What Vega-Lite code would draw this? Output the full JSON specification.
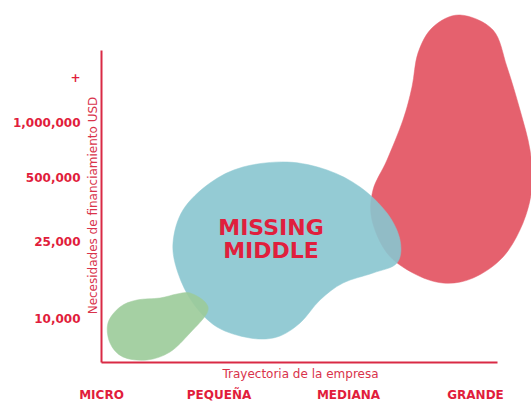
{
  "$schema": "https://vega.github.io/schema/vega-lite/v6.json",
  "width": 396,
  "height": 312,
  "autosize": {"type": "none"},
  "padding": {"left": 101, "top": 50, "right": 34, "bottom": 39},
  "background": "white",
  "config": {"view": {"stroke": null}},
  "encoding": {
    "x": {
      "field": "x", "type": "quantitative",
      "scale": {"domain": [0, 396], "nice": false, "zero": false},
      "axis": {
        "values": [0, 117.5, 247, 374],
        "labelExpr": "datum.value < 50 ? 'MICRO' : datum.value < 180 ? 'PEQUEÑA' : datum.value < 300 ? 'MEDIANA' : 'GRANDE'",
        "grid": false, "ticks": false, "tickSize": 0,
        "domainColor": "#d92a45", "domainWidth": 2,
        "labelPadding": 27, "labelBaseline": "top", "labelAlign": "center",
        "labelFont": "DejaVu Sans", "labelFontWeight": "bold", "labelFontSize": 12,
        "labelColor": "#e11d3c", "labelOverlap": false, "labelFlush": false, "labelBound": false,
        "title": "Trayectoria de la empresa",
        "titleFont": "DejaVu Sans", "titleFontWeight": "normal", "titleFontSize": 12,
        "titleColor": "#d9334b", "titleX": 199, "titleY": 11, "titleBaseline": "middle", "titleAlign": "center"
      }
    },
    "y": {
      "field": "y", "type": "quantitative",
      "scale": {"domain": [0, 312], "nice": false, "zero": false},
      "axis": {
        "values": [44, 121, 185, 240, 285],
        "labelExpr": "datum.value < 80 ? '10,000' : datum.value < 150 ? '25,000' : datum.value < 210 ? '500,000' : datum.value < 260 ? '1,000,000' : '+'",
        "grid": false, "ticks": false, "tickSize": 0,
        "domainColor": "#d92a45", "domainWidth": 2,
        "labelPadding": 21, "labelAlign": "right", "labelBaseline": "middle",
        "labelFont": "DejaVu Sans", "labelFontWeight": "bold", "labelFontSize": 12,
        "labelColor": "#e11d3c", "labelOverlap": false, "labelFlush": false, "labelBound": false,
        "title": "Necesidades de financiamiento USD",
        "titleFont": "DejaVu Sans", "titleFontWeight": "normal", "titleFontSize": 12,
        "titleColor": "#d9334b", "titleAngle": -90, "titleX": -9, "titleY": 155,
        "titleBaseline": "middle", "titleAlign": "center"
      }
    }
  },
  "layer": [
    {
      "data": {"values": [
        {"i": 0, "x": 359, "y": 347}, {"i": 1, "x": 392, "y": 332}, {"i": 2, "x": 406, "y": 295},
        {"i": 3, "x": 419, "y": 252}, {"i": 4, "x": 429, "y": 212}, {"i": 5, "x": 431, "y": 175},
        {"i": 6, "x": 422, "y": 139}, {"i": 7, "x": 402, "y": 105}, {"i": 8, "x": 372, "y": 84},
        {"i": 9, "x": 342, "y": 79}, {"i": 10, "x": 312, "y": 89}, {"i": 11, "x": 286, "y": 109},
        {"i": 12, "x": 271, "y": 142}, {"i": 13, "x": 272, "y": 172}, {"i": 14, "x": 286, "y": 202},
        {"i": 15, "x": 302, "y": 242}, {"i": 16, "x": 311, "y": 275}, {"i": 17, "x": 317, "y": 309},
        {"i": 18, "x": 332, "y": 335}
      ]},
      "mark": {"type": "line", "interpolate": "cardinal-closed", "fill": "#e5616e", "stroke": "#e5616e", "strokeWidth": 0.5},
      "encoding": {"order": {"field": "i", "type": "quantitative"}}
    },
    {
      "data": {"values": [
        {"i": 0, "x": 186, "y": 200}, {"i": 1, "x": 226, "y": 192}, {"i": 2, "x": 259, "y": 175},
        {"i": 3, "x": 286, "y": 149}, {"i": 4, "x": 299, "y": 122}, {"i": 5, "x": 296, "y": 99},
        {"i": 6, "x": 272, "y": 89}, {"i": 7, "x": 242, "y": 79}, {"i": 8, "x": 219, "y": 62},
        {"i": 9, "x": 199, "y": 39}, {"i": 10, "x": 176, "y": 25}, {"i": 11, "x": 149, "y": 24},
        {"i": 12, "x": 116, "y": 35}, {"i": 13, "x": 92, "y": 59}, {"i": 14, "x": 77, "y": 89},
        {"i": 15, "x": 72, "y": 119}, {"i": 16, "x": 82, "y": 152}, {"i": 17, "x": 109, "y": 179},
        {"i": 18, "x": 142, "y": 195}
      ]},
      "mark": {"type": "line", "interpolate": "cardinal-closed", "fill": "#89c6d0", "stroke": "#89c6d0", "strokeWidth": 0.5, "opacity": 0.9},
      "encoding": {"order": {"field": "i", "type": "quantitative"}}
    },
    {
      "data": {"values": [
        {"i": 0, "x": 89, "y": 69}, {"i": 1, "x": 104, "y": 60}, {"i": 2, "x": 106, "y": 49},
        {"i": 3, "x": 89, "y": 29}, {"i": 4, "x": 69, "y": 10}, {"i": 5, "x": 46, "y": 2},
        {"i": 6, "x": 22, "y": 5}, {"i": 7, "x": 9, "y": 19}, {"i": 8, "x": 7, "y": 39},
        {"i": 9, "x": 19, "y": 55}, {"i": 10, "x": 36, "y": 62}, {"i": 11, "x": 59, "y": 64},
        {"i": 12, "x": 76, "y": 68}
      ]},
      "mark": {"type": "line", "interpolate": "cardinal-closed", "fill": "#9ccb9a", "stroke": "#9ccb9a", "strokeWidth": 0.5, "opacity": 0.9},
      "encoding": {"order": {"field": "i", "type": "quantitative"}}
    },
    {
      "data": {"values": [
        {"x": 170, "y": 134, "label": "MISSING"},
        {"x": 170, "y": 111, "label": "MIDDLE"}
      ]},
      "mark": {"type": "text", "font": "DejaVu Sans", "fontWeight": "bold", "fontSize": 22, "color": "#e01f3d", "align": "center", "baseline": "middle"},
      "encoding": {"text": {"field": "label", "type": "nominal"}}
    }
  ]
}
